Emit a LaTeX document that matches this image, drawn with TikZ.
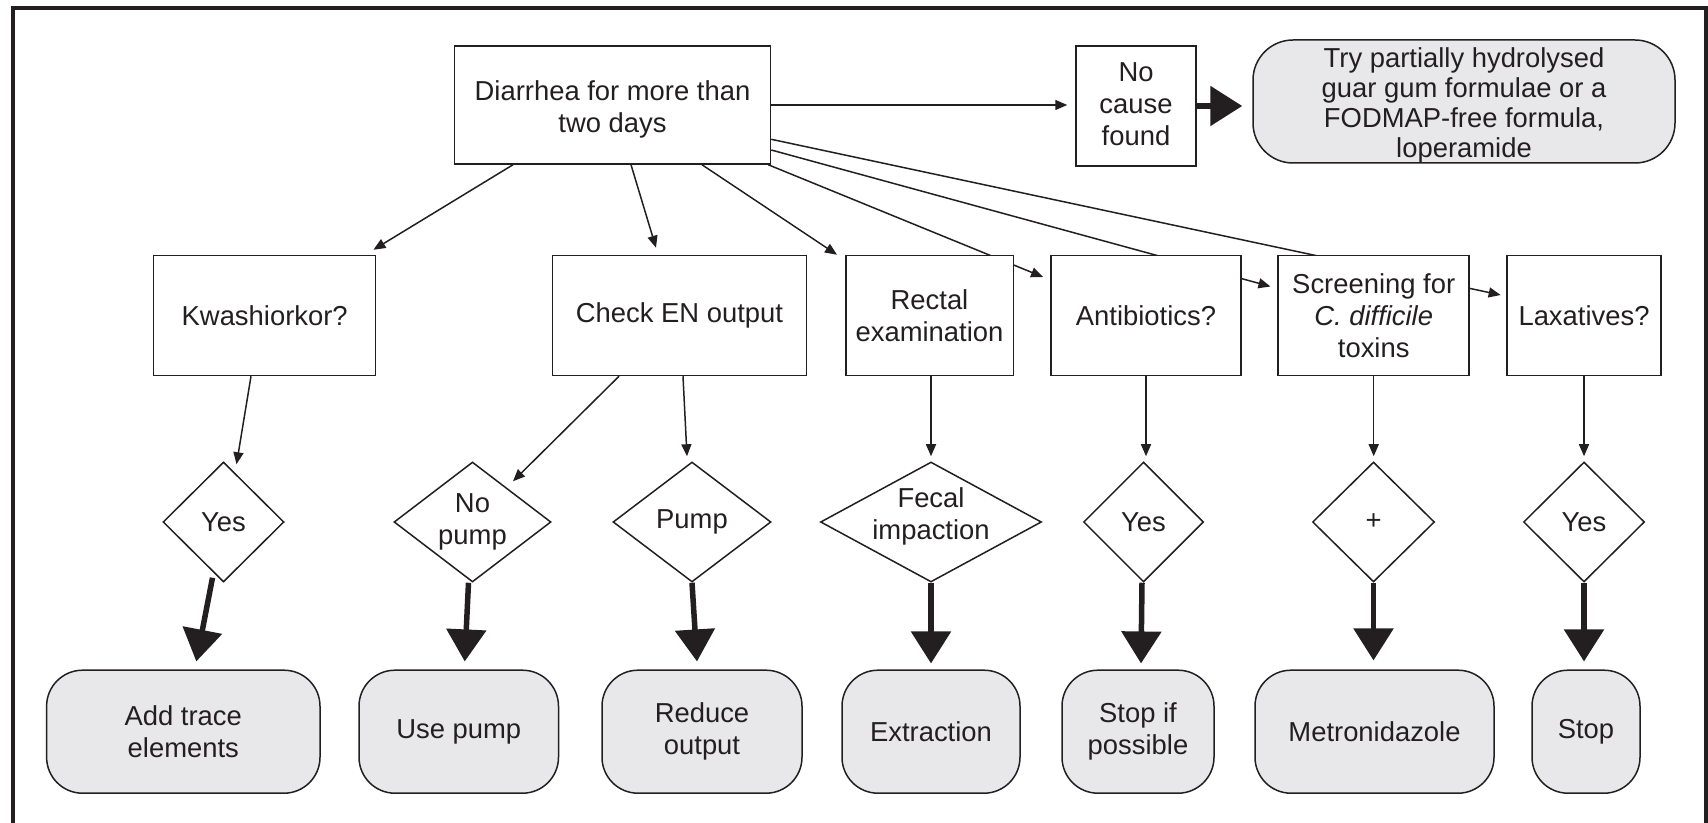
\documentclass[tikz,border=0pt]{standalone}
\usepackage{fontspec}
\setmainfont{Liberation Sans}
\usetikzlibrary{shapes.geometric,arrows.meta,calc}
\definecolor{ink}{RGB}{35,31,32}
\definecolor{pillfill}{RGB}{232,232,234}
\pgfdeclarelayer{bg}
\pgfsetlayers{bg,main}
\begin{document}
\begin{tikzpicture}[x=0.5pt,y=-0.5pt,
  txt/.style={font=\fontsize{13.7}{16}\selectfont, text=ink, align=center},
  box/.style={txt, draw=ink, line width=0.75pt, fill=white, inner sep=0pt, minimum height=60pt},
  pillbox/.style={txt, draw=ink, line width=0.75pt, fill=pillfill, rounded corners=18pt, inner sep=0pt, minimum height=61.5pt},
  dia/.style={diamond, draw=ink, line width=0.75pt, fill=white, inner sep=0pt, minimum height=60pt},
  dtext/.style={txt, inner sep=0pt},
  thinarrow/.style={draw=ink, line width=0.75pt, -{Triangle[length=6pt,width=5pt]}},
  thickarrow/.style={draw=ink, line width=2.75pt, -{Triangle[length=16pt,width=19.5pt]}},
  frameline/.style={draw=ink, line width=2pt}
]
\useasboundingbox (0,0) rectangle (1708,823);
\draw[frameline] (13,823) -- (13,8) -- (1706,8) -- (1706,823);

% top row
\node[box, minimum width=158pt, minimum height=59pt,
      label={[dtext,yshift=-2pt]center:{Diarrhea for more than\\two days}}] (diar) at (612.5,105) {};
\node[box, minimum width=60pt,
      label={[dtext,yshift=1pt]center:{No\\cause\\found}}] (nocause) at (1136,106) {};
\node[pillbox, rounded corners=20pt, minimum width=211pt,
      label={[dtext,yshift=-2pt,font=\fontsize{13.7}{15}\selectfont]center:{Try partially hydrolysed\\guar gum formulae or a\\FODMAP-free formula,\\loperamide}}] (try) at (1464,101.5) {};

% middle row
\node[box, minimum width=111pt] (kwash) at (264.7,315.5) {Kwashiorkor?};
\node[box, minimum width=127pt] (check) at (679.5,315.5) {Check EN output};
\node[box, minimum width=83.75pt] (rectal) at (929.5,315.5) {Rectal\\examination};
\node[box, minimum width=95.2pt] (anti) at (1146,315.5) {Antibiotics?};
\node[box, minimum width=95.5pt] (screen) at (1373.7,315.5) {Screening for\\\textit{C. difficile}\\toxins};
\node[box, minimum width=77pt] (lax) at (1584,315.5) {Laxatives?};

% diamonds
\node[dia, minimum width=60.5pt, label={[dtext]center:Yes}] (yes1) at (223.5,522) {};
\node[dia, minimum width=78.5pt, label={[dtext]center:{No\\pump}}] (nopump) at (472.5,522) {};
\node[dia, minimum width=79pt, label={[dtext]center:Pump}] (pump) at (692,522) {};
\node[dia, minimum width=110.5pt, label={[dtext,yshift=3pt]center:{Fecal\\impaction}}] (fecal) at (931,522) {};
\node[dia, minimum width=60pt, label={[dtext]center:Yes}] (yes2) at (1143.5,522) {};
\node[dia, minimum width=61pt, label={[dtext]center:+}] (plus) at (1373.5,522) {};
\node[dia, minimum width=60.5pt, label={[dtext]center:Yes}] (yes3) at (1584,522) {};

% bottom pills
\node[pillbox, minimum width=136.7pt] (add) at (183.3,731.7) {Add trace\\elements};
\node[pillbox, minimum width=99.75pt] (use) at (458.75,731.7) {Use pump};
\node[pillbox, minimum width=100pt] (reduce) at (702,731.7) {Reduce\\output};
\node[pillbox, minimum width=89pt] (extr) at (931,731.7) {Extraction};
\node[pillbox, minimum width=76pt] (stopif) at (1138,731.7) {Stop if\\possible};
\node[pillbox, minimum width=119.5pt] (metro) at (1374.5,731.7) {Metronidazole};
\node[pillbox, minimum width=54pt] (stop) at (1586,731.7) {Stop};

% connectors (behind boxes)
\begin{pgfonlayer}{bg}
\draw[thinarrow] ($(diar.south)+(-99.5,0)$) -- ($(kwash.north east)+(-3,-5)$);
\draw[thinarrow] ($(diar.south)+(18.5,0)$) -- ($(check.north)+(-23.5,-7)$);
\draw[thinarrow] ($(diar.south)+(89.5,0)$) -- ($(rectal.north west)+(-8,0)$);
\draw[thinarrow] ($(diar.south east)+(-3,0)$) -- ($(anti.west)+(-7,-38.5)$);
\draw[thinarrow] ($(diar.east)+(0,45)$) -- ($(screen.west)+(-7,-29)$);
\draw[thinarrow] ($(diar.east)+(0,34.3)$) -- ($(lax.west)+(-5.6,-20.5)$);
\draw[thinarrow] (diar.east) -- ($(diar.east -| nocause.west)+(-8,0)$);

\draw[thinarrow] ($(kwash.south)+(-13.7,0)$) -- ($(yes1.north)+(13,3)$);
\draw[thinarrow] ($(check.south)+(-60.5,0)$) -- ($(nopump.north)+(40.5,20)$);
\draw[thinarrow] ($(check.south)+(3.5,0)$) -- ($(pump.north)+(-5,-5)$);
\draw[thinarrow] (fecal.north |- rectal.south) -- ($(fecal.north)+(0,-5)$);
\draw[thinarrow] (anti.south) -- ($(anti.south |- yes2.north)+(0,-5)$);
\draw[thinarrow] (screen.south) -- ($(screen.south |- plus.north)+(0,-5)$);
\draw[thinarrow] (lax.south) -- ($(lax.south |- yes3.north)+(0,-5)$);
\end{pgfonlayer}

\draw[thickarrow] (nocause.east) -- ($(nocause.east -| try.west)+(-10,0)$);
\draw[thickarrow] ($(yes1.south)+(-11,-5)$) -- ($(add.north)+(13,-8)$);
\draw[thickarrow] ($(nopump.south)+(-4,0)$) -- ($(use.north)+(6,-8)$);
\draw[thickarrow] (pump.south) -- ($(reduce.north)+(-5,-8)$);
\draw[thickarrow] (fecal.south) -- ($(extr.north)+(0,-6)$);
\draw[thickarrow] ($(yes2.south)+(-1.5,0)$) -- ($(stopif.north)+(3,-6)$);
\draw[thickarrow] (plus.south) -- ($(plus.south |- metro.north)+(0,-9)$);
\draw[thickarrow] (yes3.south) -- ($(yes3.south |- stop.north)+(0,-8)$);
\end{tikzpicture}
\end{document}
